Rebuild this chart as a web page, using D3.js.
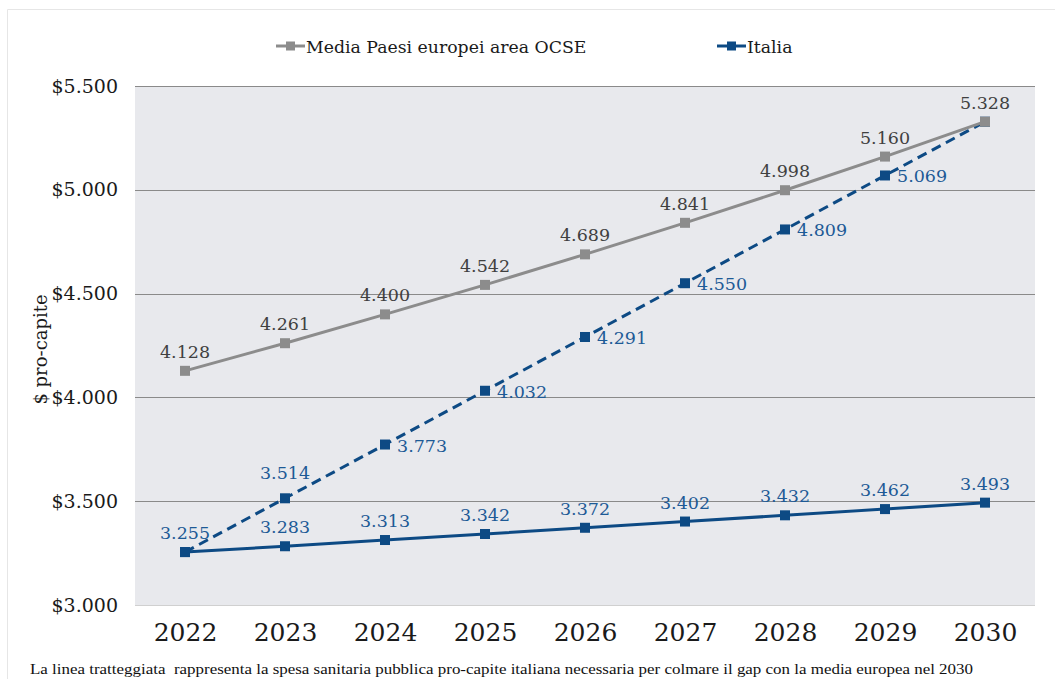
<!DOCTYPE html>
<html>
<head>
<meta charset="utf-8">
<script src="https://cdn.jsdelivr.net/npm/d3@7"></script>
<style>
  body { margin: 0; background: #fff; }
  svg text { font-family: "DejaVu Serif", serif; }
</style>
</head>
<body>
<div id="chart"></div>
<script>
// values
const years = ["2022", "2023", "2024", "2025", "2026", "2027", "2028", "2029", "2030"];
const ocse = [4128, 4261, 4400, 4542, 4689, 4841, 4998, 5160, 5328];
const italia = [3255, 3283, 3313, 3342, 3372, 3402, 3432, 3462, 3493];
const italiaGap = [3255, 3514, 3773, 4032, 4291, 4550, 4809, 5069, 5328];
const yTicks = [3000, 3500, 4000, 4500, 5000, 5500];

const width = 1055, height = 679;
const plot = {left: 135, right: 1035, top: 86, bottom: 605};

const grey = "#8c8c8c", blue = "#0d4a84";
const greyText = "#404040", blueText = "#1d5a96";
const fmt = d3.format(",");
const itFmt = v => fmt(v).replace(",", ".");

const svg = d3.select("#chart")
  .append("svg")
    .attr("width", width)
    .attr("height", height);

// faint frame
svg.append("path")
  .attr("d", "M7.5," + height + "V9.5H" + width)
  .attr("fill", "none")
  .attr("stroke", "#e6e6e6");

const x = d3.scalePoint()
  .domain(years)
  .range([plot.left, plot.right])
  .padding(0.5);

const y = d3.scaleLinear()
  .domain([3000, 5500])
  .range([plot.bottom, plot.top]);

// plot background
svg.append("rect")
  .attr("x", plot.left)
  .attr("y", plot.top)
  .attr("width", plot.right - plot.left)
  .attr("height", plot.bottom - plot.top)
  .attr("fill", "#e8e9ed");

// grid lines
svg.append("g")
  .selectAll("line")
  .data(yTicks)
  .enter()
  .append("line")
    .attr("x1", plot.left)
    .attr("x2", plot.right)
    .attr("y1", d => Math.round(y(d)) + 0.5)
    .attr("y2", d => Math.round(y(d)) + 0.5)
    .attr("stroke", d => d === 3000 ? "#d0d0d0" : "#8a8a8a")
    .attr("stroke-width", 1.2);

// y axis labels
const yAxis = svg.append("g")
  .attr("transform", "translate(" + (plot.left - 17) + ",0)")
  .call(d3.axisLeft(y).tickValues(yTicks).tickSize(0).tickPadding(0)
    .tickFormat(d => "$" + itFmt(d)));
yAxis.select(".domain").remove();
yAxis.selectAll("text")
  .attr("font-size", 19)
  .attr("fill", "#1a1a1a")
  .style("font-family", "DejaVu Serif");

// x axis labels
const xAxis = svg.append("g")
  .attr("transform", "translate(0," + (plot.bottom + 18) + ")")
  .call(d3.axisBottom(x).tickSize(0).tickPadding(0));
xAxis.select(".domain").remove();
xAxis.selectAll("text")
  .attr("font-size", 25)
  .attr("fill", "#1a1a1a")
  .style("font-family", "DejaVu Serif");

// y axis title
svg.append("text")
  .attr("transform", "translate(47," + ((plot.top + plot.bottom) / 2 + 4) + ") rotate(-90)")
  .attr("text-anchor", "middle")
  .attr("font-size", 18)
  .attr("fill", "#1a1a1a")
  .text("$ pro-capite");

const line = d3.line()
  .x((d, i) => x(years[i]))
  .y(d => y(d));

function drawSeries(values, color, dash) {
  svg.append("path")
    .datum(values)
    .attr("d", line)
    .attr("fill", "none")
    .attr("stroke", color)
    .attr("stroke-width", 3)
    .attr("stroke-dasharray", dash || null);
  svg.append("g")
    .selectAll("rect")
    .data(values)
    .enter()
    .append("rect")
      .attr("x", (d, i) => x(years[i]) - 5)
      .attr("y", d => y(d) - 5)
      .attr("width", 10)
      .attr("height", 10)
      .attr("fill", color);
}

drawSeries(italiaGap, blue, "10,6");
drawSeries(ocse, grey);
drawSeries(italia, blue);

// data labels
svg.append("g")
  .selectAll("text")
  .data(ocse)
  .enter()
  .append("text")
    .attr("x", (d, i) => x(years[i]))
    .attr("y", d => y(d) - 13)
    .attr("text-anchor", "middle")
    .attr("font-size", 17.5)
    .attr("fill", greyText)
    .text(d => itFmt(d));

svg.append("g")
  .selectAll("text")
  .data(italia)
  .enter()
  .append("text")
    .attr("x", (d, i) => x(years[i]))
    .attr("y", d => y(d) - 13)
    .attr("text-anchor", "middle")
    .attr("font-size", 17.5)
    .attr("fill", blueText)
    .text(d => itFmt(d));

svg.append("g")
  .selectAll("text")
  .data(italiaGap.slice(1, -1))
  .enter()
  .append("text")
    .attr("x", (d, i) => i === 0 ? x(years[1]) : x(years[i + 1]) + 12)
    .attr("y", (d, i) => i === 0 ? y(d) - 19 : y(d) + 7)
    .attr("text-anchor", (d, i) => i === 0 ? "middle" : "start")
    .attr("font-size", 17.5)
    .attr("fill", blueText)
    .text(d => itFmt(d));

// legend
const legendItems = [
  {name: "Media Paesi europei area OCSE", color: grey, x: 276},
  {name: "Italia", color: blue, x: 717}
];
const legend = svg.append("g")
  .selectAll("g")
  .data(legendItems)
  .enter()
  .append("g")
    .attr("transform", d => "translate(" + d.x + ",46)");
legend.append("line")
  .attr("x1", 0).attr("x2", 29)
  .attr("stroke", d => d.color)
  .attr("stroke-width", 3);
legend.append("rect")
  .attr("x", 10).attr("y", -4.5)
  .attr("width", 9).attr("height", 9)
  .attr("fill", d => d.color);
legend.append("text")
  .attr("x", 30)
  .attr("y", 7)
  .attr("font-size", 17.3)
  .attr("fill", "#1a1a1a")
  .text(d => d.name);

// footnote
svg.append("text")
  .attr("x", 30)
  .attr("y", 674)
  .attr("font-size", 15)
  .attr("textLength", 943)
  .attr("lengthAdjust", "spacingAndGlyphs")
  .style("font-family", "Liberation Serif")
  .style("white-space", "pre")
  .attr("fill", "#111")
  .text("La linea tratteggiata  rappresenta la spesa sanitaria pubblica pro-capite italiana necessaria per colmare il gap con la media europea nel 2030");
</script>
</body>
</html>
